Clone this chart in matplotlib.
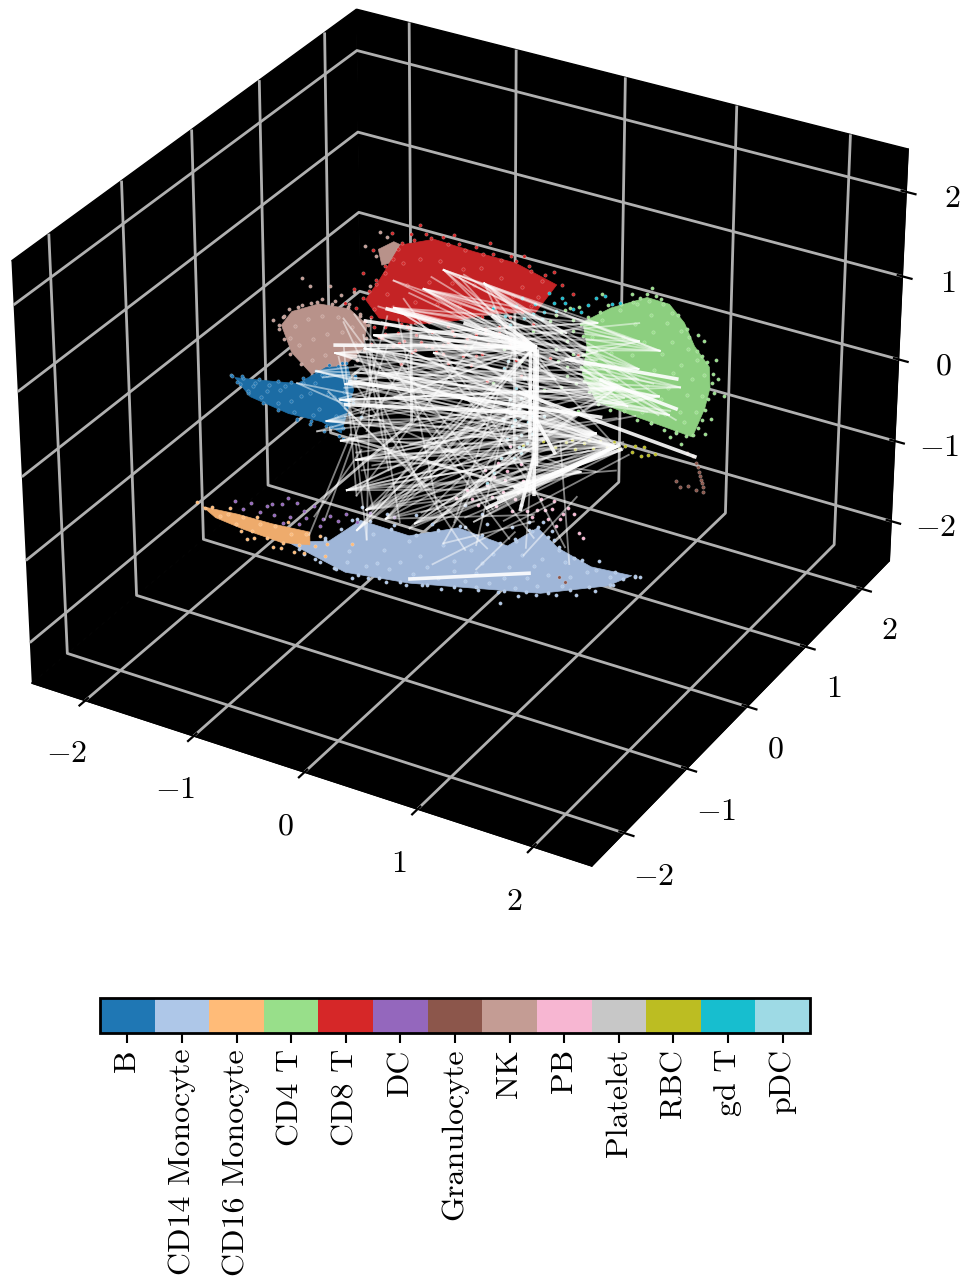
import numpy as np
import matplotlib
matplotlib.use("Agg")
import matplotlib.pyplot as plt
from matplotlib.colors import ListedColormap, BoundaryNorm
from matplotlib.cm import ScalarMappable
from mpl_toolkits.mplot3d.art3d import Poly3DCollection

plt.rcParams['font.family'] = ['cmr10', 'DejaVu Serif']
plt.rcParams['mathtext.fontset'] = 'cm'
plt.rcParams['axes.formatter.use_mathtext'] = True

cell_types = ['B', 'CD14 Monocyte', 'CD16 Monocyte', 'CD4 T', 'CD8 T', 'DC', 'Granulocyte',
              'NK', 'PB', 'Platelet', 'RBC', 'gd T', 'pDC']
colors = ['#1f77b4', '#aec7e8', '#ffbb78', '#98df8a', '#d62728', '#9467bd', '#8c564b',
          '#c49c94', '#f7b6d2', '#c7c7c7', '#bcbd22', '#17becf', '#9edae5']
ticks = [-2, -1, 0, 1, 2]

# outline of the dense part of each cluster (x, z)
hull_cd4_x = [1.68, 1.87, 2.00, 2.09, 2.22, 2.23, 2.19, 2.09, 1.85, 1.58, 1.26, 1.13, 1.17, 1.13, 1.37]
hull_cd4_z = [2.32, 2.31, 2.12, 1.85, 1.63, 1.36, 1.07, 0.64, 0.67, 0.70, 0.75, 1.06, 1.45, 1.76, 2.05]
hull_cd8_x = [-0.68, -0.48, -0.18, 0.18, 0.54, 0.90, 0.72, 0.36, 0.00, -0.36, -0.68, -0.80]
hull_cd8_z = [1.55, 2.12, 2.32, 2.30, 2.30, 2.16, 1.72, 1.55, 1.30, 1.10, 1.05, 1.25]
hull_nk_x = [-1.58, -1.48, -1.23, -0.95, -0.79, -0.83, -0.99, -1.31, -1.49]
hull_nk_z = [0.57, 0.80, 1.01, 1.06, 0.91, 0.56, 0.28, 0.01, 0.23]
hull_nk2_x = [-0.68, -0.54, -0.43, -0.50, -0.65]
hull_nk2_z = [1.98, 2.14, 2.11, 1.90, 1.78]
hull_b_x = [-2.03, -1.71, -1.44, -1.17, -0.97, -0.92, -1.04, -1.22, -1.53, -1.89]
hull_b_z = [-0.31, -0.23, -0.16, 0.16, 0.26, -0.04, -0.61, -0.54, -0.56, -0.49]
hull_cd14_x = [-1.56, -1.02, -0.42, 0.36, 0.78, 1.38, 1.59, 1.23, 0.93, 0.75, 0.48, 0.03, -0.42, -0.87, -1.17]
hull_cd14_z = [-2.17, -2.33, -2.22, -1.98, -1.85, -1.51, -1.30, -1.34, -1.23, -1.06, -1.39, -1.35, -1.63, -1.62, -2.00]
hull_cd16_x = [-2.37, -2.03, -1.71, -1.35, -1.35, -1.62, -1.98, -2.25]
hull_cd16_z = [-2.05, -2.01, -2.00, -1.96, -2.12, -2.20, -2.18, -2.14]

# single cells
b_x = [-2.05, -2.01, -1.96, -1.9, -1.84, -1.78, -1.7, -1.62, -1.55, -1.47, -1.38, -1.3, -1.21, -1.13, -1.06, -0.98, -0.92,
       -1.86, -1.72, -1.6, -1.5, -1.41, -1.32, -1.24, -1.15, -1.08, -1.0, -1.45, -1.33, -1.2, -1.1, -1.02, -0.9, -0.85, -1.27, -1.16,
       -2.06, -1.95, -1.8, -1.62, -1.5, -1.38, -1.26, -1.14, -1.02, -0.9, -0.92, -0.96, -1.02, -1.06, -1.18, -1.32, -1.45, -1.62, -1.76, -1.9, -1.98]
b_z = [-0.3, -0.36, -0.27, -0.43, -0.31, -0.46, -0.28, -0.47, -0.24, -0.52, -0.14, -0.5, 0.03, -0.58, 0.22, 0.3, -0.2,
       -0.36, -0.36, -0.3, -0.4, -0.3, -0.24, -0.4, -0.18, -0.42, -0.1, -0.62, -0.62, -0.65, -0.2, -0.68, 0.12, -0.35, -0.1, 0.05,
       -0.3, -0.29, -0.25, -0.2, -0.17, -0.08, 0.06, 0.2, 0.28, 0.15, -0.15, -0.35, -0.55, -0.66, -0.58, -0.58, -0.6, -0.56, -0.52, -0.46, -0.38]
cd14_x = [-1.62, -1.4, -1.25, -1.1, -0.95, -0.8, -0.63, -0.45, -0.3, -0.12, 0.05, 0.22, 0.4, 0.58, 0.74, 0.92, 1.1, 1.27, 1.43, 1.62, 1.67,
          -1.2, -0.98, -0.72, -0.5, -0.25, 0.0, 0.2, 0.45, 0.66, 0.85, 1.05, -0.75, -0.42, -0.1, 0.15, 0.35, 0.62, 0.8, 1.0, 1.2, 1.4,
          -0.9, -0.55, -0.2, 0.1, 0.3, 0.55, 0.7, 0.95, 0.8, 0.88, 0.68, 0.6, 0.1, -0.35, -0.62, -0.85, 0.25, 0.52, 1.15, 1.3, 0.9, 0.42,
          -1.6, -1.45, -1.3, -1.12, -0.9, -0.7, -0.5, -0.25, 0.0, 0.2, 0.45, 0.65, 0.85, 1.05, 1.22, 1.4, 1.52, 1.62, 1.45, 1.28, 1.08, 0.95,
          0.85, 0.76, 0.68, 0.56, 0.42, 0.25, 0.05, -0.15, -0.35, -0.58, -0.78, -0.95, -1.05, -1.2, -1.38,
          -1.0, -0.82, -0.6, -0.38, -0.15, 0.1, 0.32, 0.55, 0.75, 0.98, -0.65, -0.32, 0.0, 0.25, 0.5, 0.72]
cd14_z = [-2.18, -2.26, -2.3, -2.33, -2.38, -2.32, -2.3, -2.26, -2.2, -2.17, -2.12, -2.05, -2.0, -1.97, -1.9, -1.82, -1.74, -1.62, -1.48, -1.31, -1.29,
          -2.0, -2.05, -2.1, -2.0, -1.95, -1.9, -1.85, -1.8, -1.72, -1.6, -1.55, -1.75, -1.7, -1.62, -1.58, -1.55, -1.45, -1.42, -1.38, -1.42, -1.4,
          -1.62, -1.55, -1.4, -1.32, -1.2, -1.28, -1.12, -1.25, -0.98, -1.05, -1.02, -0.85, -1.05, -1.35, -1.45, -1.45, -1.1, -1.15, -1.3, -1.25, -1.15, -2.12,
          -2.15, -2.22, -2.28, -2.32, -2.32, -2.28, -2.24, -2.18, -2.1, -2.02, -1.96, -1.9, -1.82, -1.7, -1.6, -1.5, -1.38, -1.3, -1.32, -1.36, -1.3, -1.22,
          -1.14, -1.05, -1.12, -1.3, -1.38, -1.36, -1.33, -1.45, -1.6, -1.62, -1.6, -1.65, -1.8, -1.98, -2.08,
          -2.2, -2.18, -2.12, -2.1, -2.05, -1.98, -1.92, -1.88, -1.78, -1.68, -1.9, -1.85, -1.78, -1.7, -1.65, -1.55]
cd16_x = [-2.42, -2.35, -2.28, -2.2, -2.12, -2.05, -1.98, -1.9, -1.82, -1.75, -1.68, -1.6, -1.52, -1.45, -1.38, -1.3, -1.25, -1.18,
          -2.1, -1.95, -1.85, -1.7, -1.55, -1.4, -1.88, -2.0, -1.62, -1.5, -0.95, -1.2]
cd16_z = [-2.02, -2.06, -2.02, -2.1, -2.05, -2.15, -2.03, -2.17, -2.05, -2.2, -2.02, -2.2, -2.06, -2.17, -2.0, -2.12, -1.98, -2.05,
          -1.96, -2.3, -1.98, -2.3, -1.92, -2.25, -2.25, -2.22, -2.28, -2.28, -1.95, -2.2]
cd4_x = [1.7, 1.8, 1.9, 1.6, 1.72, 1.86, 1.98, 1.45, 1.58, 1.74, 1.9, 2.04, 1.3, 1.48, 1.66, 1.82, 1.98, 2.12, 1.22, 1.38, 1.56, 1.75, 1.92, 2.08, 2.18,
         1.2, 1.36, 1.54, 1.7, 1.88, 2.04, 2.17, 1.3, 1.46, 1.64, 1.82, 1.98, 2.12, 1.44, 1.66, 1.86, 2.02, 1.74, 1.95,
         2.3, 2.35, 2.28, 2.12, 2.17, 2.25, 2.2, 1.72, 1.55, 1.3, 1.9, 2.0, 1.0, 0.95, 1.05, 0.8, 0.6, 0.35, 0.15, 0.9, 0.7, 0.45, 1.1, 1.02, 0.85,
         1.68, 1.62, 1.76, 1.82, 1.95, 2.03, 2.05, 2.12, 2.16, 2.2, 2.26, 2.25, 2.27, 2.22, 2.2, 2.17, 2.14, 2.1, 2.04, 1.95, 1.85, 1.74, 1.62, 1.5,
         1.38, 1.28, 1.2, 1.15, 1.12, 1.14, 1.18, 1.14, 1.12, 1.18, 1.28, 1.35, 1.46, 1.56,
         1.05, 1.0, 0.92, 1.08, 1.0, 0.95, 1.05, 0.98, 0.9, 1.1]
cd4_z = [2.28, 2.34, 2.2, 2.2, 2.1, 2.05, 2.0, 2.05, 1.92, 1.88, 1.82, 1.78, 1.85, 1.7, 1.72, 1.62, 1.55, 1.68, 1.6, 1.45, 1.5, 1.38, 1.42, 1.4, 1.5,
         1.25, 1.2, 1.28, 1.15, 1.2, 1.18, 1.22, 0.98, 1.0, 0.95, 1.02, 0.92, 0.98, 0.82, 0.78, 0.84, 0.8, 0.66, 0.62,
         1.5, 1.3, 1.75, 2.0, 1.95, 0.95, 0.72, 2.45, 2.3, 2.2, 0.55, 0.5, 1.1, 0.8, 1.6, 0.7, 1.0, 0.6, 1.0, 1.3, 1.45, 1.1, 0.55, 1.9, 1.65,
         2.36, 2.28, 2.36, 2.28, 2.2, 2.05, 1.95, 1.8, 1.75, 1.68, 1.55, 1.42, 1.3, 1.2, 1.05, 0.9, 0.78, 0.66, 0.62, 0.64, 0.62, 0.66, 0.66, 0.72,
         0.68, 0.72, 0.85, 0.98, 1.15, 1.32, 1.42, 1.58, 1.72, 1.85, 1.95, 2.08, 2.14, 2.2,
         1.3, 1.45, 1.15, 0.92, 0.98, 1.55, 1.75, 1.85, 1.75, 1.95]
cd8_x = [-0.7, -0.62, -0.5, -0.38, -0.25, -0.1, 0.05, 0.2, 0.35, 0.5, 0.66, 0.8, -0.45, -0.3, -0.12, 0.08, 0.24, 0.42, 0.6, -0.6, -0.42, -0.22, -0.02, 0.18, 0.38, 0.52,
         -0.72, -0.55, -0.35, -0.15, 0.05, 0.25, -0.8, -0.62, -0.42, -0.22, -0.02, -0.65, -0.45, -0.25,
         -0.9, -0.98, -0.82, -0.72, -0.55, -0.3, 0.0, 0.32, 0.62, 0.88, 0.95, 1.05, 0.5, 0.7, 0.9, 0.55, 0.2, -0.05, -0.48, 0.3, 0.6, 0.85, 1.1, -0.75,
         -0.7, -0.62, -0.54, -0.46, -0.35, -0.2, -0.05, 0.1, 0.26, 0.42, 0.55, 0.68, 0.78, 0.74, 0.68, 0.6, 0.5, 0.4, 0.28, 0.12, -0.05, -0.2, -0.35, -0.5, -0.68, -0.8, -0.88, -0.82, -0.76,
         -0.72, -0.6, -0.5, -0.4, -0.3, -0.2, -0.1, 0.0, 0.1, 0.2, 0.3, 0.4, -0.62, -0.48, -0.34, -0.16, 0.02, 0.14, 0.28, 0.45, -0.55, -0.38, -0.1, 0.08, 0.25, 0.5, 0.62, -0.75, -0.05, 0.15]
cd8_z = [1.55, 1.78, 2.05, 2.3, 2.36, 2.38, 2.34, 2.36, 2.34, 2.37, 2.3, 2.24, 1.88, 2.0, 2.05, 2.02, 2.1, 2.05, 2.0, 1.4, 1.6, 1.72, 1.8, 1.85, 1.72, 1.85,
         1.15, 1.25, 1.4, 1.45, 1.52, 1.45, 0.95, 0.95, 1.05, 1.18, 1.15, 0.78, 0.82, 0.85,
         1.35, 1.12, 1.6, 1.95, 2.25, 2.45, 2.44, 2.47, 2.42, 2.32, 2.17, 2.1, 1.25, 1.55, 1.75, 1.0, 0.9, 0.7, 0.5, 0.6, 0.8, 1.15, 1.3, 0.65,
         1.5, 1.68, 1.9, 2.15, 2.24, 2.32, 2.3, 2.28, 2.3, 2.28, 2.32, 2.24, 2.15, 1.92, 1.78, 1.66, 1.55, 1.38, 1.25, 1.1, 0.98, 0.85, 0.75, 0.78, 0.78, 0.95, 1.1, 1.25, 1.38,
         0.9, 1.0, 0.92, 1.02, 0.88, 1.05, 0.92, 1.1, 1.0, 1.2, 1.1, 1.3, 0.85, 1.05, 0.95, 0.8, 0.95, 1.15, 1.3, 1.42, 0.72, 0.7, 0.8, 0.85, 0.95, 1.18, 1.3, 1.02, 1.2, 0.75]
dc_x = [-2.05, -1.98, -1.9, -1.82, -1.75, -1.68, -1.6, -1.53, -1.46, -1.38, -1.3, -1.22, -1.15, -1.08, -1.0, -0.9, -1.7, -1.55, -1.4, -1.25, -1.45, -1.6, -0.78, -0.55]
dc_z = [-1.85, -1.93, -1.82, -1.9, -1.8, -1.88, -1.72, -1.85, -1.65, -1.8, -1.62, -1.75, -1.68, -1.72, -1.6, -1.66, -1.75, -1.62, -1.72, -1.85, -1.9, -1.95, -1.5, -1.45]
gran_x = [2.05, 2.1, 2.13, 2.15, 2.16, 2.17, 2.18, 2.19, 2.2, 2.2, 2.14, 2.07, 2.0, 1.96, 0.95, 1.0]
gran_z = [0.4, 0.38, 0.3, 0.25, 0.19, 0.14, 0.09, 0.05, 0.0, -0.05, -0.06, -0.04, -0.08, -0.02, -1.58, -1.62]
nk_x = [-1.6, -1.55, -1.5, -1.42, -1.3, -1.2, -1.08, -0.95, -0.85, -1.45, -1.33, -1.2, -1.05, -0.92, -1.42, -1.28, -1.15, -1.02, -0.9, -1.3, -1.18, -1.02, -0.88,
        -1.65, -1.3, -1.12, -1.02, -0.9, -0.75, -0.62, -0.52, -0.44, -0.6, -0.5, -0.7, -0.56, -0.8, -0.66, -1.38, -1.2,
        -1.6, -1.56, -1.5, -1.38, -1.24, -1.1, -0.96, -0.85, -0.78, -0.8, -0.82, -0.9, -1.0, -1.14, -1.3, -1.4, -1.5, -1.55]
nk_z = [0.5, 0.7, 0.42, 0.88, 0.98, 1.08, 1.1, 1.12, 1.0, 0.6, 0.75, 0.85, 0.9, 0.82, 0.35, 0.5, 0.62, 0.7, 0.6, 0.2, 0.32, 0.42, 0.38,
        0.6, 1.22, 1.3, 1.22, 1.3, 1.45, 1.35, 1.55, 2.12, 2.17, 2.02, 1.87, 1.84, 1.97, 2.22, 1.3, 0.02,
        0.55, 0.68, 0.82, 0.92, 1.03, 1.05, 1.08, 1.02, 0.9, 0.72, 0.55, 0.42, 0.26, 0.12, -0.01, 0.1, 0.2, 0.38]
pb_x = [0.02, 0.12, 0.22, 0.3, 0.38, 0.46, 0.55, 0.62, 0.7, 0.78, 0.85, 0.9, 0.98, 1.12, 1.16, 1.08, 0.6, 0.72, 0.4, 0.28, 0.5, 0.66, 0.95, 0.82,
        0.34, 0.44, 0.52, 0.58, 0.65, 0.75, 0.88, 0.92, 1.02, 0.16, 0.36, 0.48]
pb_z = [-1.0, -0.86, -1.0, -0.72, -0.95, -0.6, -0.8, -0.55, -0.95, -0.7, -0.92, -0.68, -0.8, -0.98, -1.02, -0.76, -0.35, -0.2, -0.42, -0.55, -0.18, -0.9, -0.88, -0.82,
        -0.85, -0.75, -0.95, -0.7, -0.62, -0.85, -0.78, -0.98, -0.72, -0.95, -0.6, -0.48]
rbc_x = [0.62, 0.72, 0.8, 0.9, 1.0, 1.08, 1.16, 1.24, 1.3, 1.36, 1.42, 1.46, 1.52, 1.6, 1.68, 1.72, 1.78, 1.58, 1.66, 1.2, 1.05]
rbc_z = [-0.12, -0.08, 0.0, -0.03, 0.08, 0.02, 0.13, 0.1, 0.22, 0.17, 0.27, 0.19, 0.25, 0.29, 0.31, 0.22, 0.27, 0.2, 0.18, 0.2, 0.13]
gdt_x = [0.35, 0.45, 0.55, 0.62, 0.7, 0.72, 0.8, 0.88, 0.9, 0.98, 1.05, 1.12, 1.25, 1.32, 1.38, 1.45, 0.6, 0.78, 0.95, 0.5, 0.84, 1.18]
gdt_z = [1.62, 1.55, 1.72, 1.6, 1.68, 1.82, 1.75, 1.9, 1.8, 1.95, 1.9, 1.88, 2.12, 2.18, 2.1, 2.15, 1.85, 1.65, 2.0, 1.45, 2.02, 2.0]
pdc_x = [0.45, 0.5, 0.55, 0.62, 0.68, 0.74, 0.5, 0.58, 0.66, 0.46, 0.55, 0.62, 0.7, 0.52, 0.6, 0.68, 0.58, 0.65, 0.5, 0.42, 0.36, 0.72, 0.8, 0.3,
         0.48, 0.54, 0.6, 0.66, 0.52, 0.58, 0.64, 0.7, 0.44, 0.5, 0.56, 0.62, 0.48, 0.54, 0.6]
pdc_z = [0.85, 0.72, 0.62, 0.78, 0.55, 0.7, 0.45, 0.35, 0.42, 0.28, 0.18, 0.25, 0.3, 0.08, 0.0, 0.1, -0.15, -0.08, -0.25, -0.35, -0.55, 0.95, 0.35, -0.7,
         0.95, 0.55, 0.5, 0.2, 0.38, 0.12, 0.6, 0.05, 0.15, 0.25, -0.05, -0.15, -0.1, -0.3, -0.22]

# connections between cells
thin_x0 = [-1.08, -1.08, -0.54, -0.54, 0.09, -0.99, -0.99, -0.99, -1.26, -1.26, -1.44, -1.44, -1.2, -0.9, -0.8, -0.68, -0.4, -0.2, 0.05, 0.3,
           -1.0, -0.95, -0.9, -0.85, -0.8, -0.75, -0.6, -0.55, -0.4, -0.3, -1.05, -1.0, -0.95, -0.9, -0.85, -0.7, -0.65, -0.5, -0.45, -0.35,
           -0.27, -0.27, -0.18, -0.41, -0.41, -0.81, -0.81, -0.9, -0.9, -1.3, -1.35, -1.2, -0.1, 0.0, 0.1, 0.2, 0.35, 0.5, 0.63, 1.04,
           -0.85, -0.8, -0.75, -0.6, -0.5, -0.3, -0.15, 0.18, 0.18, 0.3, 0.45, 0.72, 0.9, 0.72, 0.55, 0.65, -1.15, -1.0, -0.9, -0.55]
thin_z0 = [0.39, 0.39, 1.61, 1.61, 1.95, -0.19, -0.19, -0.19, -0.68, -0.68, -0.16, -0.16, 0.0, 0.2, 0.7, 1.2, 1.5, 1.8, 1.9, 1.6,
           -0.4, -0.6, -0.8, -1.0, -1.2, -0.9, -0.7, -1.1, -0.5, -1.3, -0.2, -0.05, 0.1, 0.3, 0.5, 0.8, 1.0, 1.2, 1.4, 1.1,
           -0.86, -0.86, -1.38, -1.54, -1.54, -1.84, -1.84, -1.33, -1.33, -1.75, -2.0, -1.75, -1.6, -1.3, -1.2, -1.5, -1.0, -1.3, -1.45, -1.39,
           -0.3, -0.5, -1.4, -0.9, -1.5, -1.0, -1.2, -1.22, -1.22, -1.05, -1.1, -0.6, -0.7, -1.0, -1.2, -1.35, -0.15, -0.3, 0.05, 0.6]
thin_x1 = [0.72, 1.62, 0.72, 1.26, 1.62, 0.72, 1.44, 1.80, 0.72, 1.26, 1.44, 0.72, 1.62, 1.9, 1.26, 1.44, 1.62, 1.8, 1.44, 1.95,
           1.44, 1.26, 1.44, 1.26, 1.5, 1.6, 1.44, 1.44, 1.5, 1.2, 0.72, 1.2, 1.6, 1.44, 1.7, 1.3, 1.5, 1.75, 0.72, 1.44,
           1.44, 0.72, 1.44, 0.72, 1.3, -0.9, -0.75, 0.2, -1.0, -0.85, -0.95, -0.6, 0.72, 0.55, 0.72, 0.5, -0.9, -1.0, 1.1, 0.95,
           -0.6, -0.4, -1.05, -0.82, -0.75, -1.0, -0.5, 1.5, 1.3, 1.44, 1.55, 1.0, -0.2, -0.1, 0.2, 0.72, 0.3, -0.2, 0.1, 0.72]
thin_z1 = [1.25, 1.95, 1.25, 1.42, 1.2, 1.25, 1.01, 1.05, 0.44, 1.42, 0.21, -0.6, 1.7, 0.9, 1.3, 1.1, 0.9, 0.8, 0.21, 0.8,
           0.21, -0.18, 0.6, 0.2, 0.3, 0.7, 0.21, -0.1, 0.9, 0.05, 1.25, 1.1, 1.2, 0.21, 0.8, 0.21, 0.9, 1.2, -0.5, 0.21,
           0.21, 1.25, 0.21, 0.44, 0.1, -0.7, 1.0, 1.1, 0.5, -0.75, -0.6, 0.7, 0.8, 1.25, -0.6, 0.44, 1.0, 0.9, -0.55, 0.05,
           1.1, 0.7, 0.35, 0.75, 0.6, 0.85, 1.1, 0.21, 0.05, 0.21, 0.15, -1.2, -1.9, -1.6, -1.8, 0.3, -1.5, -1.0, -1.6, -1.2]
thick_x0 = [0.72, 0.74, 0.68, 0.59, -1.08, -0.95, -0.99, -0.41, 0.3, 0.4, 0.55, -0.8, -0.6, -0.3, 0.1, 0.35, 1.0, 1.3, 0.72, 0.72]
thick_z0 = [1.25, 1.2, 1.15, 0.57, 0.5, 0.05, -0.25, -2.17, -1.0, -0.85, -0.65, 0.95, 1.2, 0.95, 1.3, 1.5, 1.2, 1.05, 0.3, -0.2]
thick_x1 = [0.72, 0.74, 0.68, 2.12, 0.72, 1.3, 0.72, 0.68, 1.44, 1.46, 1.48, 0.72, 0.72, 0.72, 0.72, 0.72, 1.95, 1.95, 0.9, 0.6]
thick_z1 = [-0.67, -0.3, 0.0, 0.38, 1.25, 0.55, 0.35, -1.65, 0.21, 0.24, 0.19, 1.25, 1.25, 1.2, 1.25, 1.25, 1.35, 0.95, -0.1, -0.9]

# more connections, as index pairs between two groups of cells
left_x = [-1.08, -1.26, -0.99, -1.04, -1.17, -1.04, -0.9, -0.99, -0.81, -0.63, -0.36, -0.9, -0.72, -0.54, -0.27, -0.81, -0.68, -0.09, 0.27, -0.18, -0.54, -0.27, 0.09]
left_z = [0.39, 0.06, 0.0, -0.21, -0.52, -0.71, -0.89, -1.30, -1.47, -1.51, -1.46, -1.76, 0.79, 1.24, 1.61, 0.57, 0.29, 1.94, 1.91, 0.78, 0.01, -0.49, -0.95]
right_x = [0.72, 0.72, 0.72, 0.72, 1.44, 1.26, 1.08, 1.44, 1.62, 1.26, 1.80, 1.98, 0.99, 0.90, 0.27, 0.09, 1.13, 0.36, 0.0, 0.72, 1.62, 1.80, 1.53, 1.89]
right_z = [1.25, 0.57, -0.05, -0.61, 0.21, 0.31, 0.48, 1.01, 1.71, 1.80, 1.05, 1.25, 1.55, 0.89, 0.0, 0.29, -0.24, 1.02, 0.49, -0.92, 1.34, 1.66, 0.80, 0.84]
link_left = [0, 0, 0, 0, 0, 1, 1, 1, 1, 2, 2, 2, 2, 2, 2, 3, 3, 3, 3, 3, 4, 4, 4, 4, 4, 5, 5, 5, 5, 6, 6, 6, 6, 6, 7, 7, 7, 7, 7, 7,
             8, 8, 8, 8, 8, 9, 9, 9, 9, 9, 10, 10, 10, 10, 11, 11, 11, 11, 12, 12, 12, 12, 12, 13, 13, 13, 13, 13, 14, 14, 14, 14, 15, 15, 15, 15, 15,
             16, 16, 16, 16, 17, 17, 17, 18, 18, 18, 19, 19, 19, 19, 20, 20, 20, 20, 21, 21, 21, 21, 22, 22, 22, 22, 22,
             0, 2, 3, 4, 5, 6, 7, 8, 9, 10, 12, 13, 15, 16, 20, 2, 3, 5, 7, 8, 12, 15, 16, 0, 1, 4, 6, 8, 9, 11,
             12, 13, 14, 15, 16, 17, 18, 19, 12, 13, 14, 15, 17, 18, 19, 13, 14, 17, 18, 12, 14, 15, 18, 19, 13, 16, 17, 14, 18, 12]
link_right = [0, 1, 6, 7, 10, 0, 4, 6, 13, 0, 1, 4, 7, 10, 13, 1, 2, 4, 5, 11, 0, 2, 4, 6, 7, 1, 3, 4, 5, 2, 4, 5, 10, 16, 1, 3, 4, 6, 14, 16,
              2, 3, 4, 5, 16, 1, 3, 4, 14, 19, 2, 4, 5, 16, 0, 1, 14, 15, 0, 8, 9, 10, 12, 0, 1, 7, 9, 11, 0, 8, 12, 13, 0, 4, 7, 10, 13,
              1, 4, 5, 11, 0, 9, 13, 1, 7, 13, 0, 3, 4, 10, 0, 4, 7, 16, 0, 1, 5, 16, 4, 5, 6, 7, 16,
              4, 5, 6, 8, 7, 6, 5, 0, 6, 7, 4, 5, 1, 6, 4, 9, 7, 10, 5, 7, 5, 6, 1, 5, 5, 5, 7, 1, 0, 0,
              20, 21, 22, 23, 20, 21, 22, 23, 21, 20, 23, 22, 20, 21, 22, 8, 9, 12, 12, 9, 20, 21, 23, 20, 22, 23, 8, 21, 10, 11]

# the read-off values were taken with a flat estimate of the view, this brings them onto the real one
x_shift = -0.13
z_shift = -0.03
z_upper_scale = 0.13


def cal_x(v):
    return np.asarray(v) + x_shift


def cal_z(v):
    v = np.asarray(v)
    return v - z_upper_scale*np.clip(v, 0, None) + z_shift


fig = plt.figure(figsize=(9.68, 12.79), dpi=100)
ax = fig.add_axes([-43.5/968, 1-(430.5+498.5)/1279, 997/968, 997/1279], projection='3d', computed_zorder=False)
ax.patch.set_alpha(0)
ax.set_xlim(-2.5, 2.5)
ax.set_ylim(-2.5, 2.5)
ax.set_zlim(-2.5, 2.5)
ax.set_xticks(ticks)
ax.set_yticks(ticks)
ax.set_zticks(ticks)
tick_text = ['$%d$' % t for t in ticks]
ax.set_xticklabels(tick_text, fontsize=23)
ax.set_yticklabels(tick_text, fontsize=23)
ax.set_zticklabels(tick_text, fontsize=23)
ax.tick_params(axis='x', pad=13)
ax.tick_params(axis='y', pad=11)
ax.tick_params(axis='z', pad=12)
for axis in (ax.xaxis, ax.yaxis, ax.zaxis):
    axis.set_pane_color('black')
    axis.pane.set_edgecolor('black')
    axis._axinfo['grid']['color'] = '#b0b0b0'
    axis._axinfo['grid']['linewidth'] = 2.0
    axis._axinfo['tick']['color'] = 'black'
    axis._axinfo['tick']['linewidth'] = {True: 1.6, False: 1.0}
    axis.line.set_color('black')


def fill_hull(hx, hz, col, order=2):
    verts = [list(zip(cal_x(hx), np.zeros(len(hx)), cal_z(hz)))]
    p = Poly3DCollection(verts, facecolor=col, edgecolor=col, linewidth=0.5, zorder=order)
    ax.add_collection3d(p)


def dots(px, pz, col, order=3):
    ax.scatter(cal_x(px), np.zeros(len(px)), cal_z(pz), s=6, c=col, edgecolors='#ffffff60', linewidths=0.4,
               depthshade=False, zorder=order)


def link(xa, xb, za, zb, **kw):
    ax.plot(cal_x([xa, xb]), [0, 0], cal_z([za, zb]), color='white', **kw)


fill_hull(hull_nk_x, hull_nk_z, '#b8928a')
fill_hull(hull_nk2_x, hull_nk2_z, '#b8928a')
dots(nk_x, nk_z, colors[7])
fill_hull(hull_cd8_x, hull_cd8_z, '#c42325', 4)
dots(cd8_x, cd8_z, colors[4], 5)
fill_hull(hull_b_x, hull_b_z, '#1c6ca4', 4)
dots(b_x, b_z, colors[0], 5)
fill_hull(hull_cd4_x, hull_cd4_z, '#8ccf7f', 4)
dots(cd4_x, cd4_z, colors[3], 5)
fill_hull(hull_cd14_x, hull_cd14_z, '#9fb6d8', 4)
dots(cd14_x, cd14_z, colors[1], 5)
dots(dc_x, dc_z, colors[5], 5)
fill_hull(hull_cd16_x, hull_cd16_z, '#eeab6c', 6)
dots(cd16_x, cd16_z, colors[2], 6)
dots(gran_x, gran_z, colors[6], 6)
dots(pb_x, pb_z, colors[8], 6)
dots(rbc_x, rbc_z, colors[10], 6)
dots(gdt_x, gdt_z, colors[11], 6)
dots(pdc_x, pdc_z, colors[12], 6)

for i in range(len(thin_x0)):
    link(thin_x0[i], thin_x1[i], thin_z0[i], thin_z1[i], lw=1.3, alpha=0.5, zorder=8)
for a, b in zip(link_left, link_right):
    link(left_x[a], right_x[b], left_z[a], right_z[b], lw=1.3, alpha=0.5, zorder=8)
for i in range(len(thick_x0)):
    link(thick_x0[i], thick_x1[i], thick_z0[i], thick_z1[i], lw=2.6, alpha=0.9, zorder=9)

cax = fig.add_axes([100/968, 1-1033/1279, 710/968, 35/1279])
cmap = ListedColormap(colors)
norm = BoundaryNorm(np.arange(len(colors)+1)-0.5, len(colors))
cb = fig.colorbar(ScalarMappable(norm=norm, cmap=cmap), cax=cax, orientation='horizontal')
cb.set_ticks(np.arange(len(colors)))
cb.set_ticklabels(cell_types, rotation=90, fontsize=23)
cb.ax.minorticks_off()
cb.ax.tick_params(length=7, width=1.5, pad=4.5)
cb.outline.set_linewidth(2)

fig.savefig('out.png', dpi=100)
